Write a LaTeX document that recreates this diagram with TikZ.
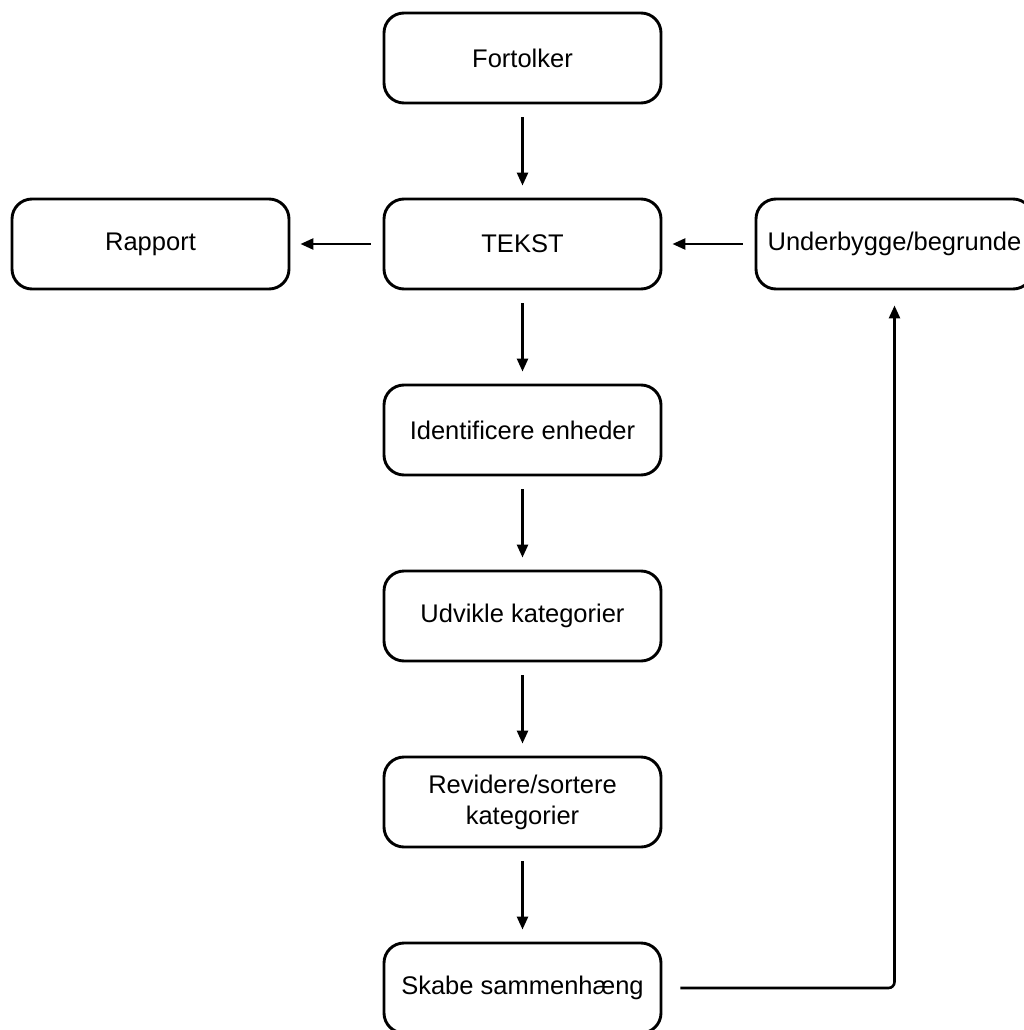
\documentclass[tikz,border=0pt]{standalone}
\usepackage{fontspec}
\setmainfont{Liberation Sans}
\usetikzlibrary{arrows.meta}
\begin{document}
\begin{tikzpicture}[x=1pt,y=-1pt,
  box/.style={draw=black, line width=2.9pt, rounded corners=20pt, minimum width=277pt, minimum height=90pt, align=center, font=\fontsize{25.5}{30}\selectfont, inner sep=0pt},
  conn/.style={line width=2.6pt, -{Triangle[length=13pt,width=11pt]}},
  ]
\useasboundingbox (0,0) rectangle (1023,1030);
\node[box] (fort) at (522.5,58) {Fortolker};
\node[box] (tekst) at (522.5,244) {TEKST};
\node[box] (rap) at (150.5,244) {Rapport};
\node[box] (under) at (894.5,244) {Underbygge/begrunde};
\node[box] (ident) at (522.5,430) {Identificere enheder};
\node[box] (udv) at (522.5,616) {Udvikle kategorier};
\node[box] (rev) at (522.5,802) {Revidere/sortere\\[1pt]kategorier};
\node[box] (skabe) at (522.5,988) {Skabe sammenhæng};
\draw[conn, shorten <=13pt, shorten >=12pt] (fort) -- (tekst);
\draw[conn, shorten <=13pt, shorten >=12pt] (tekst) -- (ident);
\draw[conn, shorten <=13pt, shorten >=12pt] (ident) -- (udv);
\draw[conn, shorten <=13pt, shorten >=12pt] (udv) -- (rev);
\draw[conn, shorten <=13pt, shorten >=12pt] (rev) -- (skabe);
\draw[conn, shorten <=12pt, shorten >=10pt] (tekst) -- (rap);
\draw[conn, shorten <=12pt, shorten >=10pt] (under) -- (tekst);
\draw[conn, rounded corners=6pt, shorten <=18pt, shorten >=15pt] (skabe.east) -| (under.south);
\end{tikzpicture}
\end{document}
